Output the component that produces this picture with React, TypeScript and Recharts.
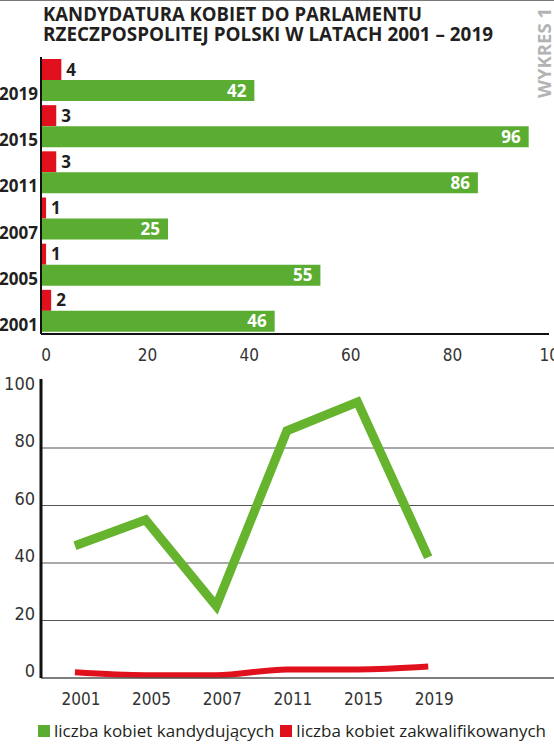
import React from 'react';
import {
  BarChart, Bar, LineChart, Line, XAxis, YAxis, LabelList, ReferenceLine,
} from 'recharts';

const years = ['2001', '2005', '2007', '2011', '2015', '2019'];
const candidates = [46, 55, 25, 86, 96, 42];
const qualified = [2, 1, 1, 3, 3, 4];
const barTicks = [0, 20, 40, 60, 80, 100];
const lineTicks = [0, 20, 40, 60, 80, 100];
const gridValues = [20, 40, 60, 80];
const seriesNames = ['liczba kobiet kandydujących', 'liczba kobiet zakwalifikowanych'];
const titleLines = ['KANDYDATURA KOBIET DO PARLAMENTU', 'RZECZPOSPOLITEJ POLSKI W LATACH 2001 – 2019'];

const GREEN = '#5aad31';
const GREEN_LINE = '#66b32e';
const RED = '#e0101c';
const INK = '#231f20';
const SANS = "'Open Sans', 'Noto Sans', sans-serif";
const NARROW = "'Liberation Sans Narrow', 'DejaVu Sans Condensed', 'Roboto', sans-serif";

const rows = years.map((year, i) => ({
  year,
  idx: i,
  candidates: candidates[i],
  qualified: qualified[i],
}));

function YearTick({ x, y, payload }: any) {
  return (
    <text x={x - 3} y={y + 20} textAnchor="end" fontFamily={SANS} fontWeight={700} fontSize={17} fill={INK}>
      {payload.value}
    </text>
  );
}

function BarXTick({ x, y, payload }: any) {
  return (
    <text x={x + 5} y={y + 27} textAnchor="middle" fontFamily={NARROW} fontSize={17} fill="#333">
      {payload.value}
    </text>
  );
}

function LineYTick({ x, y, payload }: any) {
  return (
    <text x={x - 6} y={y - 1} textAnchor="end" fontFamily={NARROW} fontSize={18} fill="#333">
      {payload.value}
    </text>
  );
}

function LineXTick({ x, y, payload }: any) {
  return (
    <text x={x + 6} y={y + 27} textAnchor="middle" fontFamily={NARROW} fontSize={17} fill="#333">
      {years[payload.value]}
    </text>
  );
}

export default function App() {
  const legendColors = [GREEN, RED];
  return (
    <div style={{ position: 'absolute', left: 0, top: 0, width: 554, height: 749, background: '#fff', overflow: 'hidden' }}>
      <div style={{ position: 'absolute', left: 0, top: 0, width: 554, height: 1, background: '#777' }} />

      <svg width={554} height={110} style={{ position: 'absolute', left: 0, top: 0 }}>
        <text x={43} y={21} textLength={379} lengthAdjust="spacingAndGlyphs" fontFamily={SANS} fontWeight={700} fontSize={19.5} fill={INK}>
          {titleLines[0]}
        </text>
        <text x={43} y={41} textLength={450} lengthAdjust="spacingAndGlyphs" fontFamily={SANS} fontWeight={700} fontSize={19.5} fill={INK}>
          {titleLines[1]}
        </text>
        <text
          x={0}
          y={0}
          transform="translate(551 98) rotate(-90)"
          textLength={90}
          lengthAdjust="spacingAndGlyphs"
          fontFamily={SANS}
          fontWeight={700}
          fontSize={17}
          fill="#b3b3b3"
        >
          WYKRES 1
        </text>
      </svg>

      <div style={{ position: 'absolute', left: 0, top: 0 }}>
        <BarChart
          width={554}
          height={375}
          data={rows}
          layout="vertical"
          margin={{ top: 57, right: 5, bottom: 11, left: 0 }}
          barCategoryGap={2}
          barGap={0}
        >
          <XAxis
            type="number"
            domain={[0, 100]}
            ticks={barTicks}
            interval={0}
            height={30}
            axisLine={{ stroke: '#111', strokeWidth: 2 }}
            tickLine={false}
            tickSize={0}
            tickMargin={0}
            tick={<BarXTick />}
          />
          <YAxis
            type="category"
            dataKey="year"
            reversed
            width={41}
            axisLine={{ stroke: '#111', strokeWidth: 2 }}
            tickLine={false}
            tickSize={0}
            tickMargin={0}
            interval={0}
            tick={<YearTick />}
          />
          <Bar dataKey="qualified" fill={RED} isAnimationActive={false}>
            <LabelList dataKey="qualified" position="right" offset={5} fill={INK} fontFamily={SANS} fontWeight={700} fontSize={17} />
          </Bar>
          <Bar dataKey="candidates" fill={GREEN} isAnimationActive={false}>
            <LabelList dataKey="candidates" position="insideRight" offset={8} fill="#fff" fontFamily={SANS} fontWeight={700} fontSize={17} />
          </Bar>
        </BarChart>
      </div>

      <div style={{ position: 'absolute', left: 0, top: 360 }}>
        <LineChart width={554} height={360} data={rows} margin={{ top: 19, right: 0, bottom: 12, left: 0 }}>
          <XAxis
            type="number"
            dataKey="idx"
            domain={[-0.48, 6.78]}
            ticks={years.map((_, i) => i)}
            interval={0}
            height={30}
            axisLine={{ stroke: '#555', strokeWidth: 1.5 }}
            tickLine={false}
            tickSize={0}
            tickMargin={0}
            tick={<LineXTick />}
          />
          <YAxis
            type="number"
            domain={[0, 104]}
            ticks={lineTicks}
            interval={0}
            width={41}
            axisLine={{ stroke: '#111', strokeWidth: 3 }}
            tickLine={false}
            tickSize={0}
            tickMargin={0}
            tick={<LineYTick />}
          />
          {gridValues.map((v) => (
            <ReferenceLine key={v} y={v} stroke="#555" strokeWidth={1.2} />
          ))}
          <Line
            type="linear"
            dataKey="candidates"
            stroke={GREEN_LINE}
            strokeWidth={9}
            strokeLinejoin="miter"
            strokeLinecap="butt"
            dot={false}
            isAnimationActive={false}
          />
          <Line
            type="monotone"
            dataKey="qualified"
            stroke={RED}
            strokeWidth={6}
            strokeLinecap="butt"
            dot={false}
            isAnimationActive={false}
          />
        </LineChart>
      </div>

      <div
        style={{
          position: 'absolute', left: 38, top: 719, display: 'flex', alignItems: 'center',
          fontFamily: SANS, fontSize: 17, color: INK, whiteSpace: 'nowrap',
        }}
      >
        {seriesNames.map((name, i) => (
          <div key={name} style={{ display: 'flex', alignItems: 'center', marginRight: i === 0 ? 6 : 0 }}>
            <span style={{ display: 'inline-block', width: 12, height: 12, background: legendColors[i], marginRight: 4 }} />
            <span>{name}</span>
          </div>
        ))}
      </div>
    </div>
  );
}
